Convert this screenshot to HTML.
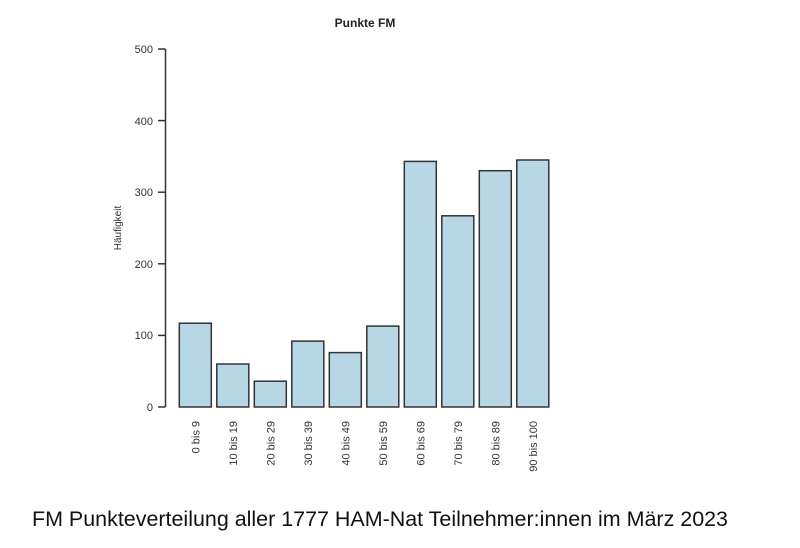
<!DOCTYPE html>
<html><head><meta charset="utf-8"><style>body{margin:0;background:#fff}svg{display:block}</style></head>
<body>
<svg width="800" height="548" xmlns="http://www.w3.org/2000/svg" font-family="Liberation Sans, Arial, sans-serif">
<rect width="800" height="548" fill="#fff"/>
<text x="365" y="27" font-size="12" font-weight="bold" text-anchor="middle" fill="#222">Punkte FM</text>
<g stroke="#333" stroke-width="1.5" fill="none">
<line x1="165.5" y1="49" x2="165.5" y2="407"/>
<line x1="158" y1="49" x2="165.5" y2="49"/>
<line x1="158" y1="120.6" x2="165.5" y2="120.6"/>
<line x1="158" y1="192.2" x2="165.5" y2="192.2"/>
<line x1="158" y1="263.8" x2="165.5" y2="263.8"/>
<line x1="158" y1="335.4" x2="165.5" y2="335.4"/>
<line x1="158" y1="407" x2="165.5" y2="407"/>
</g>
<g font-size="11" fill="#333" text-anchor="end">
<text x="153" y="53">500</text>
<text x="153" y="125">400</text>
<text x="153" y="196">300</text>
<text x="153" y="268">200</text>
<text x="153" y="339">100</text>
<text x="153" y="411">0</text>
</g>
<text transform="translate(121,228) rotate(-90)" font-size="10" fill="#333" text-anchor="middle">Häufigkeit</text>
<g fill="#b6d7e3" stroke="#333" stroke-width="1.5">
<rect x="179.3" y="323.2" width="32" height="83.8"/>
<rect x="216.8" y="364" width="32" height="43"/>
<rect x="254.3" y="381.2" width="32" height="25.8"/>
<rect x="291.8" y="341.1" width="32" height="65.9"/>
<rect x="329.3" y="352.6" width="32" height="54.4"/>
<rect x="366.8" y="326.1" width="32" height="80.9"/>
<rect x="404.3" y="161.4" width="32" height="245.6"/>
<rect x="441.8" y="215.8" width="32" height="191.2"/>
<rect x="479.3" y="170.7" width="32" height="236.3"/>
<rect x="516.8" y="160" width="32" height="247"/>
</g>
<g font-size="11" fill="#333" text-anchor="end">
<text transform="translate(199.3,421) rotate(-90)">0 bis 9</text>
<text transform="translate(236.8,421) rotate(-90)">10 bis 19</text>
<text transform="translate(274.3,421) rotate(-90)">20 bis 29</text>
<text transform="translate(311.8,421) rotate(-90)">30 bis 39</text>
<text transform="translate(349.3,421) rotate(-90)">40 bis 49</text>
<text transform="translate(386.8,421) rotate(-90)">50 bis 59</text>
<text transform="translate(424.3,421) rotate(-90)">60 bis 69</text>
<text transform="translate(461.8,421) rotate(-90)">70 bis 79</text>
<text transform="translate(499.3,421) rotate(-90)">80 bis 89</text>
<text transform="translate(536.8,421) rotate(-90)">90 bis 100</text>
</g>
<text x="32" y="526" font-size="21.4" fill="#111" textLength="696" lengthAdjust="spacingAndGlyphs">FM Punkteverteilung aller 1777 HAM-Nat Teilnehmer:innen im März 2023</text>
</svg>
</body></html>
